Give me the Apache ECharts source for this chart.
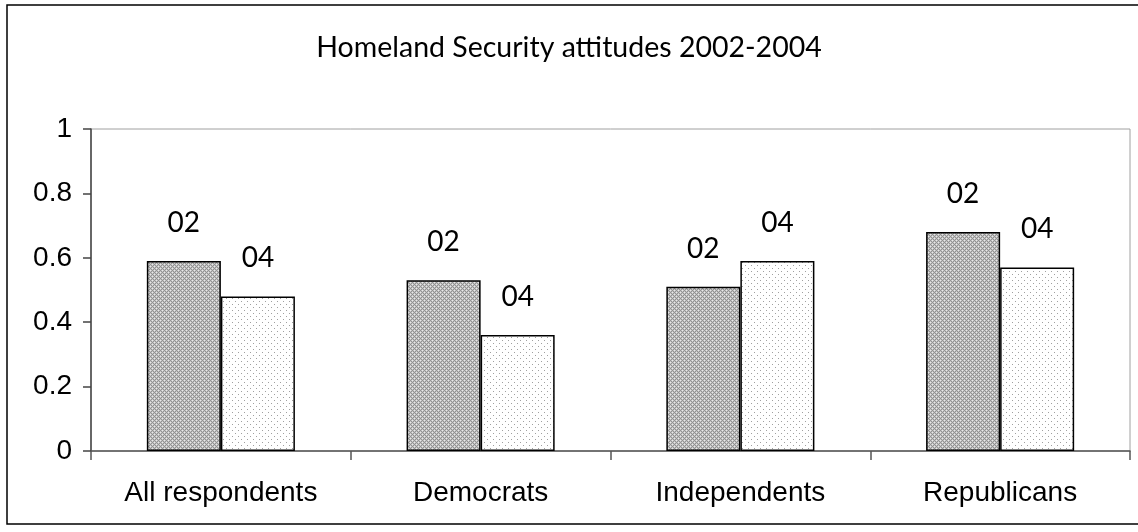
<!DOCTYPE html>
<html>
<head>
<meta charset="utf-8">
<script src="https://cdn.jsdelivr.net/npm/echarts@6/dist/echarts.min.js"></script>
<style>
  html, body { margin: 0; padding: 0; background: #fff; }
  #chart { width: 1138px; height: 532px; }
</style>
</head>
<body>
<div id="chart"></div>
<script>
// Survey groups and the share agreeing in each year
const categories = ['All respondents', 'Democrats', 'Independents', 'Republicans'];
const seriesNames = ['02', '04'];
const values2002 = [0.59, 0.53, 0.51, 0.68];
const values2004 = [0.48, 0.36, 0.59, 0.57];
const yMin = 0, yMax = 1, yStep = 0.2;

// Small tiled fills: a dense grey hatch and a sparse dotted fill
function makeTile(size, paint) {
  const c = document.createElement('canvas');
  c.width = size; c.height = size;
  const ctx = c.getContext('2d');
  paint(ctx);
  return c;
}
const hatchTile = makeTile(4, ctx => {
  for (let y = 0; y < 4; y++) {
    for (let x = 0; x < 4; x++) {
      ctx.fillStyle = (x + y) % 2 === 0 ? '#929292' : '#c4c4c4';
      ctx.fillRect(x, y, 1, 1);
    }
  }
  ctx.fillStyle = '#e8e8e8';
  ctx.fillRect(0, 0, 1, 1);
  ctx.fillRect(2, 2, 1, 1);
});
const dotTile = makeTile(6, ctx => {
  ctx.fillStyle = '#ffffff';
  ctx.fillRect(0, 0, 6, 6);
  ctx.fillStyle = '#a0a0a0';
  ctx.fillRect(1, 1, 1, 1);
  ctx.fillRect(4, 4, 1, 1);
});

const labelFont = { fontFamily: 'Lato', fontSize: 28, color: '#000' };
const axisFont = { fontFamily: 'Liberation Sans', fontSize: 28, color: '#000' };

const chart = echarts.init(document.getElementById('chart'), null, { renderer: 'canvas' });

function barSeries(name, data, tile) {
  return {
    name: name,
    type: 'bar',
    data: data,
    barGap: '0%',
    barCategoryGap: '43%',
    itemStyle: {
      color: { image: tile, repeat: 'repeat' },
      borderColor: '#000',
      borderWidth: 1.5
    },
    label: {
      show: true,
      position: 'top',
      distance: 24,
      formatter: '{a}',
      ...labelFont
    },
    emphasis: { disabled: true },
    animation: false
  };
}

chart.setOption({
  animation: false,
  backgroundColor: '#fff',
  title: {
    text: 'Homeland Security attitudes 2002-2004',
    left: 'center',
    top: 28,
    textStyle: { fontFamily: 'Lato', fontSize: 28.5, fontWeight: 'normal', color: '#000' }
  },
  graphic: [{
    type: 'rect',
    shape: { x: 7, y: 5, width: 1150, height: 519 },
    style: { fill: 'none', stroke: '#000', lineWidth: 1.5 },
    silent: true
  }],
  grid: {
    left: 91, right: 8, top: 129, bottom: 81,
    show: true,
    borderColor: '#a0a0a0',
    borderWidth: 1,
    backgroundColor: 'transparent'
  },
  xAxis: {
    type: 'category',
    data: categories,
    axisLine: { show: true, lineStyle: { color: '#555', width: 1.5 } },
    axisTick: { show: true, alignWithLabel: false, length: 9, lineStyle: { color: '#555', width: 1.5 } },
    axisLabel: { margin: 28, ...axisFont }
  },
  yAxis: {
    type: 'value',
    min: yMin, max: yMax, interval: yStep,
    axisLine: { show: true, lineStyle: { color: '#444', width: 1.5 } },
    axisTick: { show: true, length: 8, lineStyle: { color: '#444', width: 1.5 } },
    splitLine: { show: false },
    axisLabel: { margin: 19, ...axisFont }
  },
  series: [
    barSeries(seriesNames[0], values2002, hatchTile),
    barSeries(seriesNames[1], values2004, dotTile)
  ]
});
</script>
</body>
</html>
